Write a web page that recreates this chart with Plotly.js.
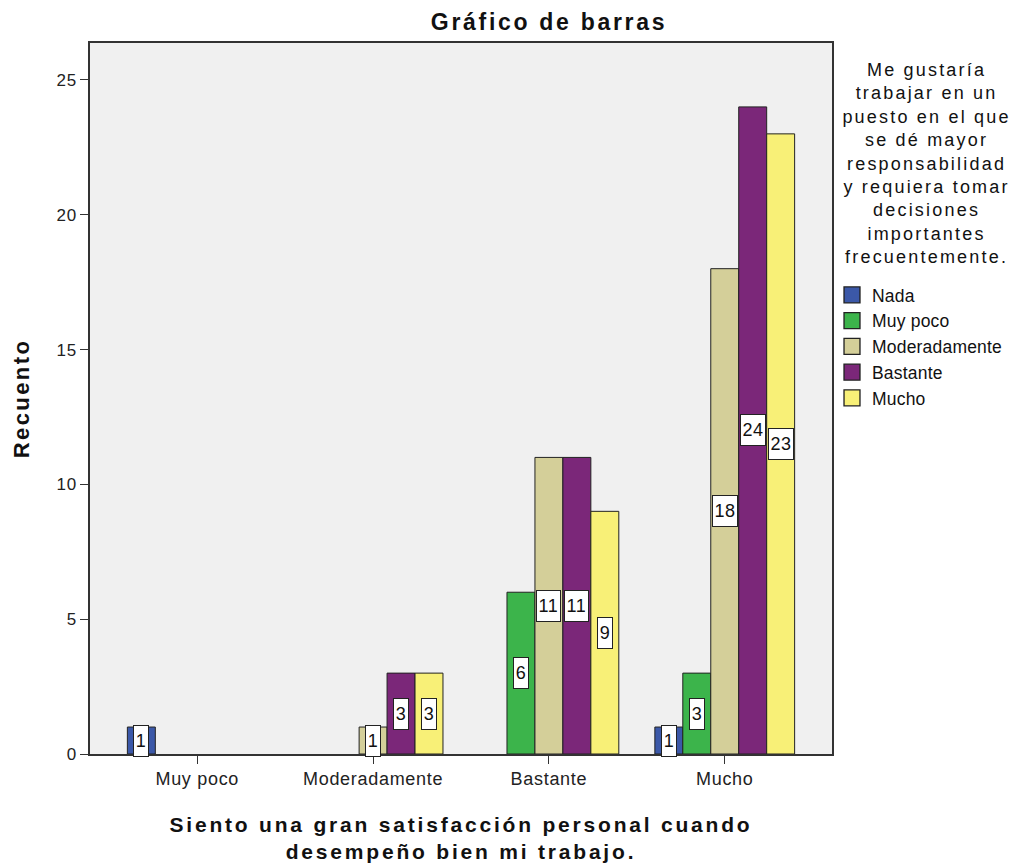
<!DOCTYPE html>
<html>
<head>
<meta charset="utf-8">
<script src="https://cdn.plot.ly/plotly-3.0.1.min.js"></script>
<style>
html,body{margin:0;padding:0;background:#fff;}
#chart{width:1022px;height:863px;}
#chart .gtitle{letter-spacing:2.7px;}
#chart .xtitle{letter-spacing:2.8px;}
#chart .ytitle{letter-spacing:2.4px;}
#chart .xtick text,#chart .ytick text{letter-spacing:0.7px;}
#chart .legendtext{letter-spacing:0.2px;}
#chart .annotation-text{letter-spacing:0.6px;}
#chart .annotation[data-index="0"] .annotation-text{letter-spacing:2.2px;}
#chart .legend .legendpoints path{transform:translate(20px,0px) scale(1.33);}
</style>
</head>
<body>
<div id="chart"></div>
<script>
// Categories on the x axis
const categories = ["Muy poco", "Moderadamente", "Bastante", "Mucho"];
// Series (legend)
const seriesNames = ["Nada", "Muy poco", "Moderadamente", "Bastante", "Mucho"];
// Counts per series, one value per category (null = no bar)
const nada          = [1, null, null, 1];
const muyPoco       = [null, null, 6, 3];
const moderadamente = [null, 1, 11, 18];
const bastante      = [null, 3, 11, 24];
const mucho         = [null, 3, 9, 23];
const yTicks = [0, 5, 10, 15, 20, 25];

const seriesValues = [nada, muyPoco, moderadamente, bastante, mucho];
const colors = ["#3b58a8", "#3cb44b", "#d4cf99", "#7b2779", "#f8f077"];

const FONT = "Liberation Sans, Arial, sans-serif";
const margin = {l: 90, r: 188, t: 43, b: 109};
const xRange = [-0.61, 3.61];
const bargap = 0.205;
const plotW = 1022 - margin.l - margin.r;
const plotH = 863 - margin.t - margin.b;
const unitPx = plotW / (xRange[1] - xRange[0]);
const barPx = unitPx * (1 - bargap) / seriesNames.length;

const traces = seriesNames.map((name, i) => ({
  type: "bar",
  name: name,
  x: categories,
  y: seriesValues[i],
  marker: {color: colors[i], line: {color: "#222", width: 1}},
  hoverinfo: "x+y+name"
}));

const legendTitle = "Me gustaría<br>trabajar en un<br>puesto en el que<br>se dé mayor<br>responsabilidad<br>y requiera tomar<br>decisiones<br>importantes<br>frecuentemente.";

// Legend title (index 0) drawn as a centered text block above the legend
const annotations = [{
  xref: "paper", yref: "paper",
  x: (929 - margin.l) / plotW, y: (863 - margin.b - 58) / plotH,
  xanchor: "center", yanchor: "top", align: "center", showarrow: false,
  text: legendTitle,
  font: {family: FONT, size: 18, color: "#111"}
}];

seriesValues.forEach((vals, i) => {
  vals.forEach((v, j) => {
    if (v === null) return;
    annotations.push({
      x: categories[j], y: v / 2, xref: "x", yref: "y",
      xshift: (i - (seriesNames.length - 1) / 2) * barPx,
      text: String(v), showarrow: false,
      font: {family: FONT, size: 18, color: "#111"},
      bgcolor: "#ffffff", bordercolor: "#222", borderwidth: 1, borderpad: 2,
      height: 26
    });
  });
});

const layout = {
  width: 1022, height: 863,
  margin: margin,
  paper_bgcolor: "#ffffff",
  plot_bgcolor: "#f0f0f0",
  font: {family: FONT, color: "#222"},
  title: {
    text: "<b>Gráfico de barras</b>",
    font: {size: 23, color: "#111"},
    x: 549 / 1022, xref: "container", xanchor: "center",
    y: 1 - 22 / 863, yref: "container", yanchor: "middle"
  },
  barmode: "group",
  bargap: bargap,
  bargroupgap: 0,
  showlegend: true,
  legend: {
    xref: "container", yref: "container",
    x: 832 / 1022, y: 1 - 277 / 863, xanchor: "left", yanchor: "top",
    font: {size: 17.5, color: "#111"},
    bgcolor: "rgba(0,0,0,0)", tracegroupgap: 0
  },
  xaxis: {
    type: "category",
    range: xRange,
    showline: true, mirror: true, linecolor: "#333", linewidth: 1.5,
    ticks: "outside", ticklen: 8, tickcolor: "#333",
    tickfont: {size: 18, color: "#222"},
    showgrid: false, zeroline: false,
    title: {
      text: "<b>Siento una gran satisfacción personal cuando<br>desempeño bien mi trabajo.</b>",
      font: {size: 21, color: "#111"}, standoff: 30
    }
  },
  yaxis: {
    range: [0, 26.37],
    tickvals: yTicks,
    showline: true, mirror: true, linecolor: "#333", linewidth: 1.5,
    ticks: "outside", ticklen: 8, tickcolor: "#333",
    tickfont: {size: 17, color: "#222"},
    showgrid: false, zeroline: false,
    title: {text: "<b>Recuento</b>", font: {size: 22, color: "#111"}, standoff: 22}
  },
  annotations: annotations
};

Plotly.newPlot("chart", traces, layout, {displayModeBar: false, responsive: false});
</script>
</body>
</html>
